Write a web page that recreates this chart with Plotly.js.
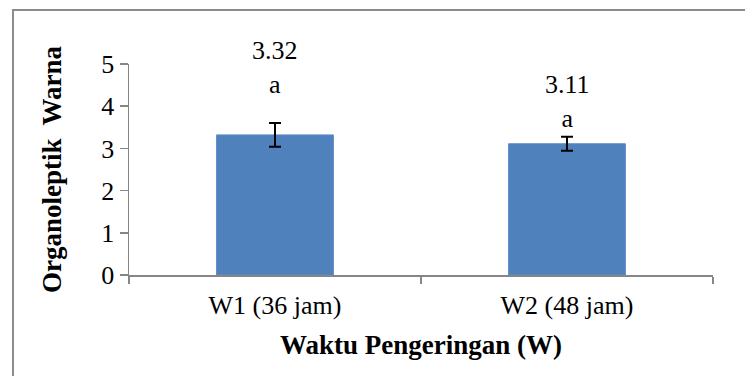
<!DOCTYPE html>
<html>
<head>
<meta charset="utf-8">
<script src="https://cdn.plot.ly/plotly-3.0.1.min.js"></script>
<style>
  html, body { margin: 0; padding: 0; background: #fff; }
  #wrap { position: relative; width: 745px; height: 376px; }
  #chart { width: 745px; height: 376px; }
  #frame { position: absolute; left: 12px; top: 9px; width: 740px; height: 380px;
           border-left: 2px solid #8c8c8c; border-top: 2px solid #8c8c8c; pointer-events: none; }
</style>
</head>
<body>
<div id="wrap">
  <div id="chart"></div>
  <div id="frame"></div>
</div>
<script>
const categories = ["W1 (36 jam)", "W2 (48 jam)"];
const values = [3.32, 3.11];
const errors = [0.28, 0.165];
const valueLabels = ["3.32", "3.11"];
const letters = ["a", "a"];
const labelShift = [22, 2];

const font = "Liberation Serif";

const trace = {
  type: "bar",
  x: categories,
  y: values,
  width: 0.4,
  marker: { color: "#4f81bd", line: { color: "#5b8cc6", width: 1 } },
  error_y: { type: "data", array: errors, visible: true, color: "#000", thickness: 2, width: 6 },
  hoverinfo: "none"
};

const annotations = [];
categories.forEach((c, i) => {
  annotations.push({
    x: c, y: values[i] + errors[i], xref: "x", yref: "y",
    text: valueLabels[i] + "<br>" + letters[i],
    showarrow: false, yanchor: "bottom", yshift: labelShift[i],
    font: { family: font, size: 26, color: "#000" }
  });
});

const layout = {
  width: 745, height: 376,
  margin: { l: 129, r: 32, t: 64, b: 101, pad: 0 },
  paper_bgcolor: "#fff", plot_bgcolor: "#fff",
  showlegend: false,
  font: { family: font, color: "#000", size: 26 },
  xaxis: {
    type: "category",
    showline: true, linecolor: "#868686", linewidth: 2,
    ticks: "outside", tickson: "boundaries", ticklen: 7, tickcolor: "#868686", tickwidth: 1.5,
    ticklabelstandoff: 6,
    tickfont: { family: font, size: 26 },
    title: { text: "<b>Waktu Pengeringan (W)</b>", font: { family: font, size: 27 }, standoff: 16 },
    fixedrange: true
  },
  yaxis: {
    range: [0, 5], dtick: 1,
    showgrid: false, zeroline: false,
    showline: true, linecolor: "#868686", linewidth: 1.5,
    ticks: "outside", ticklen: 8, tickcolor: "#868686", tickwidth: 1.5,
    tickfont: { family: font, size: 26 },
    title: { text: "<b>Organoleptik  Warna</b>", font: { family: font, size: 27 }, standoff: 32 },
    fixedrange: true
  },
  annotations: annotations
};

Plotly.newPlot("chart", [trace], layout, { displayModeBar: false, staticPlot: true });
</script>
</body>
</html>
